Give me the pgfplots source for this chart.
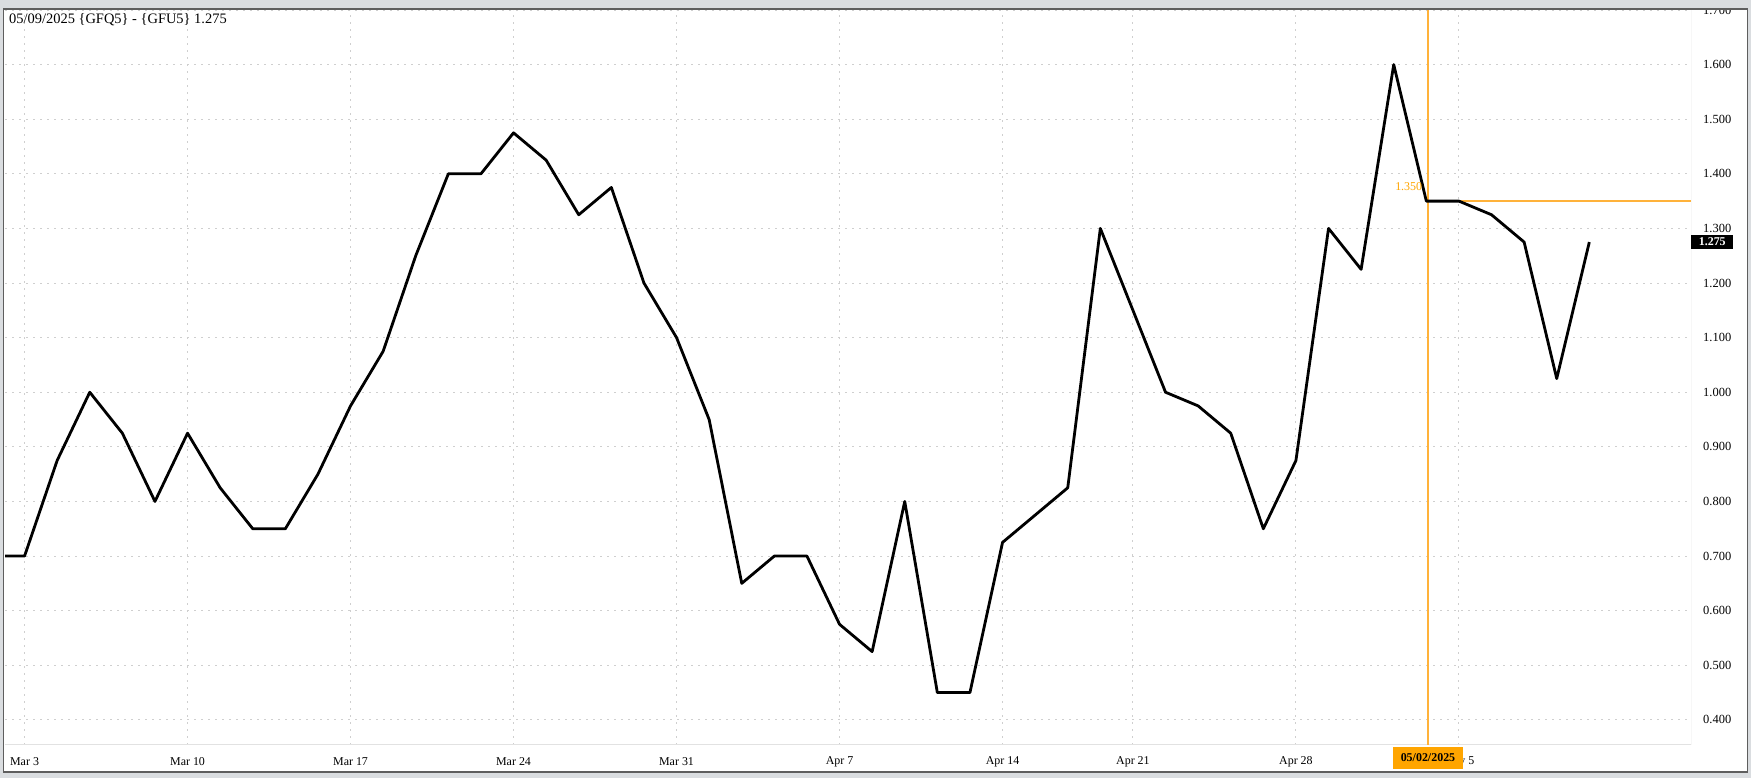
\documentclass[border=0pt]{standalone}
\usepackage{fontspec}
\setmainfont{Liberation Serif}
\usepackage{pgfplots}
\pgfplotsset{compat=1.18}
\definecolor{outergray}{HTML}{DADDE0}
\definecolor{framegray}{HTML}{5E5E5E}
\definecolor{gridgray}{HTML}{CFCFCF}
\definecolor{axisgray}{HTML}{E2E2E2}
\definecolor{rightgray}{HTML}{C6C6C6}
\definecolor{xhair}{HTML}{FFB23A}
\definecolor{xorange}{HTML}{FFA500}
\begin{document}
\begin{tikzpicture}[x=1bp,y=1bp]
\useasboundingbox (0,0) rectangle (1751,778);
\fill[outergray] (0,0) rectangle (1751,778);
\fill[white] (3.5,6) rectangle (1747.5,769);
\begin{axis}[
  at={(5bp,33bp)}, anchor=south west,
  scale only axis, width=1686bp, height=735bp,
  xmin=-0.6, xmax=51.12, ymin=0.354, ymax=1.70,
  axis line style={draw=none}, tick style={draw=none},
  major tick length=0pt,
  xtick={0,5,10,15,20,25,30,34,39,44},
  xticklabels={Mar 3,Mar 10,Mar 17,Mar 24,Mar 31,Apr 7,Apr 14,Apr 21,Apr 28,May 5},
  ytick={0.4,0.5,0.6,0.7,0.8,0.9,1.0,1.1,1.2,1.3,1.4,1.5,1.6,1.7},
  grid=major,
  major grid style={color=gridgray, dash pattern=on 1.5bp off 5.5bp, line width=0.9bp},
  yticklabel pos=right,
  /pgf/number format/fixed, /pgf/number format/fixed zerofill,
  /pgf/number format/precision=3, /pgf/number format/assume math mode=true,
  yticklabel style={anchor=west, inner sep=0pt, xshift=12bp, font=\fontsize{12.5}{12.5}\selectfont},
  xticklabel style={anchor=center, inner sep=0pt, yshift=-16.6bp, font=\fontsize{12}{12}\selectfont},
  clip=true,
]
\draw[axisgray, line width=2.5bp] (axis cs:-0.6,0.354) -- (axis cs:51.12,0.354);
\draw[rightgray, line width=1bp] (axis cs:51.12,0.354) -- (axis cs:51.12,1.70);
\draw[xhair, line width=1.5bp] (axis cs:43.05,0.354) -- (axis cs:43.05,1.70);
\draw[xhair, line width=1.4bp] (axis cs:43,1.35) -- (axis cs:51.12,1.35);
\addplot[black, line width=2.8bp, line join=round] coordinates {
(-1,0.700) (0,0.700) (1,0.875) (2,1.000) (3,0.925) (4,0.800) (5,0.925) (6,0.825)
(7,0.750) (8,0.750) (9,0.850) (10,0.975) (11,1.075) (12,1.250) (13,1.400) (14,1.400)
(15,1.475) (16,1.425) (17,1.325) (18,1.375) (19,1.200) (20,1.100) (21,0.950) (22,0.650)
(23,0.700) (24,0.700) (25,0.575) (26,0.525) (27,0.800) (28,0.450) (29,0.450) (30,0.725)
(31,0.775) (32,0.825) (33,1.300) (34,1.150) (35,1.000) (36,0.975) (37,0.925) (38,0.750)
(39,0.875) (40,1.300) (41,1.225) (42,1.600) (43,1.350) (44,1.350) (45,1.325) (46,1.275)
(47,1.025) (48,1.275)
};
\end{axis}
\begin{axis}[
  at={(5bp,33bp)}, anchor=south west,
  scale only axis, width=1686bp, height=735bp,
  xmin=-0.6, xmax=51.12, ymin=0.354, ymax=1.70,
  hide axis, clip=false,
]
\node[anchor=east, inner sep=0pt, text=xorange, font=\fontsize{12}{12}\selectfont, xshift=-4bp, yshift=14.5bp] at (axis cs:43,1.35) {1.350};
\node[anchor=west, inner sep=0pt, fill=black, minimum width=42bp, minimum height=14.5bp, text=white, font=\bfseries\fontsize{12}{12}\selectfont] at (axis cs:51.12,1.275) {1.275};
\node[anchor=center, inner sep=0pt, fill=xorange, minimum width=70bp, minimum height=22bp, text=black, font=\bfseries\fontsize{12}{12}\selectfont, yshift=-13bp] at (axis cs:43.05,0.354) {05/02/2025};
\end{axis}
\node[anchor=west, inner sep=0pt, font=\fontsize{14.5}{14.5}\selectfont] at (9,758.5) {05/09/2025 \{GFQ5\} - \{GFU5\} 1.275};
\fill[outergray] (0,769) rectangle (1751,778);
\draw[framegray, line width=1.3bp] (3.5,6) rectangle (1747.5,769);
\end{tikzpicture}
\end{document}
